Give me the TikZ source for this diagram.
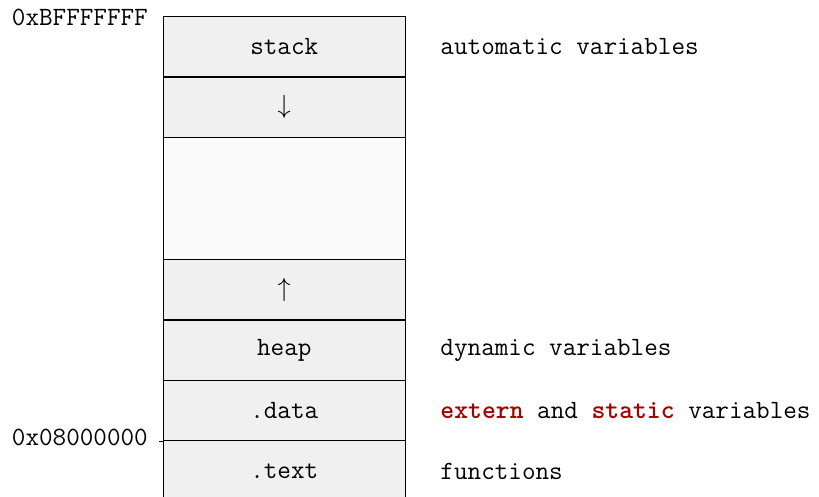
\documentclass[tikz,border=0pt]{standalone}
\usepackage{tikz}

\definecolor{cellgray}{HTML}{F0F0F0}
\definecolor{freegray}{HTML}{FAFAFA}
\definecolor{keyred}{HTML}{A50000}

\tikzset{
	mono/.style={font=\fontsize{11}{13}\selectfont\ttfamily},
	cell/.style={draw, fill=cellgray, line width=0.5pt, minimum width=3.55cm, minimum height=0.89cm, inner sep=0pt, mono},
	note/.style={anchor=west, mono},
	addr/.style={anchor=east, mono}
}

\newcommand{\kwd}[1]{\textcolor{keyred}{\textbf{#1}}}

\begin{document}
\begin{tikzpicture}

			\useasboundingbox (0,0) rectangle (12,-7.28);

			\node[cell] (stack) at (4.165,-0.681) {stack};
			\node[cell] (down) at (4.165,-1.574) {$\downarrow$};
			\node[cell, fill=freegray, minimum height=1.78cm] (free) at (4.165,-2.91) {};
			\node[cell] (up) at (4.165,-4.245) {$\uparrow$};
			\node[cell] (heap) at (4.165,-5.135) {heap};
			\node[cell] (data) at (4.165,-6.02) {.data};
			\node[cell] (text) at (4.165,-6.905) {.text};

			\draw [-, line width=0.5pt] (data.south west) -- ++(-0.05,0);

			\node[addr] (top) at (2.29,-0.25) {0xBFFFFFFF};
			\node[addr] (base) at (2.29,-6.41) {0x08000000};

			\node[note] (auto) at (6.33,-0.681) {automatic variables};
			\node[note] (dyn) at (6.33,-5.135) {dynamic variables};
			\node[note] (stat) at (6.33,-6.02) {\kwd{extern} and \kwd{static} variables};
			\node[note] (func) at (6.33,-6.905) {functions};

	\end{tikzpicture}
\end{document}
